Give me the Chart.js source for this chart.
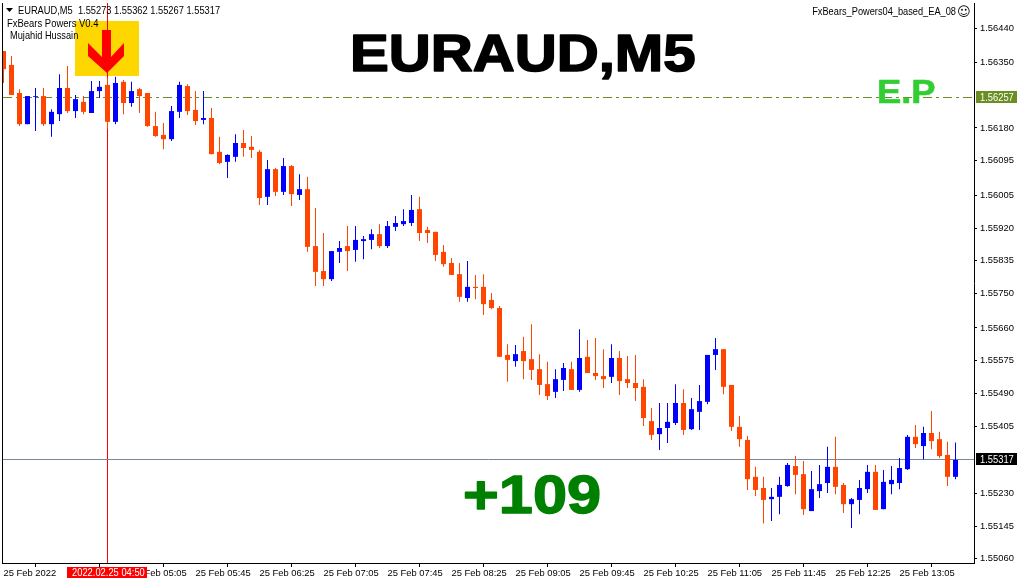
<!DOCTYPE html>
<html><head><meta charset="utf-8">
<style>html,body{margin:0;padding:0;background:#fff}canvas{display:block}</style>
<script src="https://cdn.jsdelivr.net/npm/chart.js@4/dist/chart.umd.js"></script>
</head><body><canvas id="c" width="1020" height="584"></canvas>
<script>
const opens=[1.56380,1.56344,1.56271,1.56190,1.56261,1.56263,1.56190,1.56216,1.56284,1.56224,
1.56248,1.56219,1.56276,1.56292,1.56196,1.56300,1.56245,1.56281,1.56271,1.56185,
1.56162,1.56151,1.56222,1.56289,1.56227,1.56201,1.56206,1.56118,1.56092,1.56105,
1.56141,1.56131,1.56118,1.56001,1.56073,1.56014,1.56081,1.56006,1.56021,1.55873,
1.55808,1.55787,1.55858,1.55873,1.55863,1.55886,1.55889,1.55904,1.55873,1.55923,
1.55930,1.55933,1.55969,1.55915,1.55910,1.55858,1.55829,1.55800,1.55738,1.55767,
1.55767,1.55733,1.55712,1.55590,1.55574,1.55600,1.55579,1.55553,1.55514,1.55494,
1.55525,1.55553,1.55499,1.55585,1.55543,1.55535,1.55533,1.55582,1.55527,1.55517,
1.55507,1.55418,1.55384,1.55400,1.55413,1.55465,1.55397,1.55442,1.55468,1.55590,
1.55605,1.55512,1.55403,1.55369,1.55273,1.55244,1.55215,1.55221,1.55249,1.55301,
1.55280,1.55184,1.55236,1.55257,1.55299,1.55252,1.55202,1.55213,1.55241,1.55286,
1.55189,1.55254,1.55257,1.55293,1.55377,1.55353,1.55387,1.55371,1.55330,1.55273];
const closes=[1.56333,1.56266,1.56190,1.56263,1.56263,1.56190,1.56222,1.56284,1.56224,1.56255,
1.56222,1.56276,1.56287,1.56196,1.56297,1.56245,1.56276,1.56263,1.56185,1.56159,
1.56151,1.56224,1.56292,1.56224,1.56198,1.56206,1.56112,1.56089,1.56110,1.56141,
1.56128,1.56123,1.55998,1.56073,1.56014,1.56081,1.56008,1.56021,1.55871,1.55806,
1.55787,1.55860,1.55868,1.55860,1.55889,1.55891,1.55904,1.55873,1.55925,1.55933,
1.55938,1.55967,1.55907,1.55907,1.55850,1.55826,1.55798,1.55741,1.55767,1.55764,
1.55722,1.55712,1.55585,1.55577,1.55592,1.55574,1.55551,1.55512,1.55483,1.55527,
1.55556,1.55499,1.55582,1.55543,1.55535,1.55527,1.55582,1.55522,1.55517,1.55504,
1.55426,1.55382,1.55400,1.55416,1.55465,1.55395,1.55449,1.55470,1.55590,1.55605,
1.55507,1.55403,1.55371,1.55267,1.55239,1.55213,1.55221,1.55252,1.55304,1.55278,
1.55189,1.55241,1.55254,1.55299,1.55247,1.55202,1.55215,1.55244,1.55286,1.55187,
1.55260,1.55265,1.55296,1.55377,1.55358,1.55387,1.55366,1.55327,1.55273,1.55317];
const highs=[1.56380,1.56367,1.56281,1.56263,1.56284,1.56284,1.56229,1.56320,1.56341,1.56266,
1.56263,1.56302,1.56302,1.56310,1.56313,1.56305,1.56300,1.56284,1.56271,1.56222,
1.56193,1.56237,1.56300,1.56294,1.56276,1.56276,1.56232,1.56157,1.56112,1.56164,
1.56175,1.56159,1.56123,1.56097,1.56076,1.56102,1.56084,1.56060,1.56053,1.55972,
1.55907,1.55860,1.55886,1.55925,1.55925,1.55899,1.55917,1.55930,1.55938,1.55951,
1.55969,1.56006,1.56001,1.55923,1.55910,1.55876,1.55842,1.55829,1.55834,1.55798,
1.55800,1.55751,1.55717,1.55618,1.55616,1.55637,1.55670,1.55592,1.55572,1.55553,
1.55569,1.55572,1.55657,1.55629,1.55634,1.55605,1.55618,1.55600,1.55587,1.55590,
1.55527,1.55452,1.55465,1.55465,1.55514,1.55501,1.55478,1.55512,1.55590,1.55634,
1.55605,1.55512,1.55431,1.55379,1.55299,1.55273,1.55244,1.55273,1.55309,1.55327,
1.55314,1.55288,1.55304,1.55351,1.55377,1.55257,1.55218,1.55265,1.55304,1.55304,
1.55291,1.55301,1.55322,1.55382,1.55408,1.55403,1.55444,1.55390,1.55364,1.55362];
const lows=[1.56297,1.56266,1.56185,1.56190,1.56172,1.56185,1.56157,1.56198,1.56219,1.56206,
1.56216,1.56219,1.56258,1.56177,1.56190,1.56216,1.56235,1.56219,1.56183,1.56157,
1.56125,1.56146,1.56206,1.56214,1.56188,1.56190,1.56112,1.56086,1.56050,1.56092,
1.56105,1.56102,1.55980,1.55980,1.56003,1.56006,1.55977,1.55993,1.55858,1.55769,
1.55769,1.55782,1.55829,1.55808,1.55832,1.55839,1.55865,1.55868,1.55868,1.55912,
1.55925,1.55925,1.55886,1.55881,1.55834,1.55819,1.55798,1.55728,1.55728,1.55735,
1.55694,1.55709,1.55585,1.55520,1.55559,1.55527,1.55525,1.55486,1.55473,1.55478,
1.55496,1.55499,1.55494,1.55543,1.55525,1.55504,1.55517,1.55486,1.55504,1.55470,
1.55405,1.55369,1.55343,1.55361,1.55408,1.55382,1.55395,1.55395,1.55462,1.55551,
1.55488,1.55392,1.55351,1.55239,1.55223,1.55152,1.55158,1.55176,1.55247,1.55228,
1.55174,1.55184,1.55218,1.55231,1.55228,1.55179,1.55140,1.55176,1.55231,1.55187,
1.55189,1.55228,1.55241,1.55291,1.55348,1.55319,1.55345,1.55322,1.55249,1.55267];

const priceTicks=[1.56440,1.56350,1.56180,1.56095,1.56005,1.55920,1.55835,1.55750,1.55660,1.55575,1.55490,1.55405,1.55230,1.55145,1.55060];
const timeTickBars=[0,8,16,24,32,40,48,56,64,72,80,88,96,104,112];
const timeTickLabels=['25 Feb 2022','','25 Feb 05:05','25 Feb 05:45','25 Feb 06:25','25 Feb 07:05','25 Feb 07:45','25 Feb 08:25','25 Feb 09:05','25 Feb 09:45','25 Feb 10:25','25 Feb 11:05','25 Feb 11:45','25 Feb 12:25','25 Feb 13:05'];
const entryPrice=1.56259, entryLabel='1.56257';
const lastPrice=1.55317, lastLabel='1.55317';
const crossBar=13, crossLabel='2022.02.25 04:50';

const UP='#0000FF', DOWN='#FF4500', BLACK='#000';
const FONT='"Liberation Sans"';
const bars=opens.map((_,i)=>i);
const dirColors=bars.map(i=>closes[i]>=opens[i]?UP:DOWN);

function text(ctx,s,x,y,font,color,opts={}){
  ctx.save();ctx.font=font;ctx.fillStyle=color;ctx.textBaseline=opts.base||'alphabetic';ctx.textAlign=opts.align||'left';
  ctx.translate(x,y);if(opts.sx)ctx.scale(opts.sx,1);
  if(opts.stroke){ctx.lineWidth=opts.stroke;ctx.strokeStyle=color;ctx.lineJoin='round';ctx.strokeText(s,0,0);}
  ctx.fillText(s,0,0);ctx.restore();
}
const decor={
  id:'decor',
  beforeDatasetsDraw(chart){
    const {ctx,chartArea:a,scales:{x,y}}=chart;
    const cx=Math.floor(x.getPixelForValue(crossBar));
    ctx.save();
    ctx.fillStyle='#FFD700';ctx.fillRect(cx-32,21,64,55);
    ctx.fillStyle='#FF0000';ctx.beginPath();
    [[-5,30],[4,30],[4,57],[17,43],[17,56],[0,73],[-19,56],[-19,43],[-5,57]].forEach((p,i)=>i?ctx.lineTo(cx+p[0],p[1]):ctx.moveTo(cx+p[0],p[1]));
    ctx.closePath();ctx.fill();
    ctx.fillStyle='#FF0000';ctx.fillRect(cx,a.top,1,a.bottom-a.top);
    const ey=Math.floor(y.getPixelForValue(entryPrice))+.5;
    ctx.strokeStyle='#6B8E23';ctx.lineWidth=1;ctx.setLineDash([9,4,3,4]);
    ctx.beginPath();ctx.moveTo(a.left,ey);ctx.lineTo(a.right,ey);ctx.stroke();
    ctx.setLineDash([]);
    const ly=Math.floor(y.getPixelForValue(lastPrice))+.5;
    ctx.strokeStyle='#778899';ctx.beginPath();ctx.moveTo(a.left,ly);ctx.lineTo(a.right,ly);ctx.stroke();
    ctx.restore();
  },
  afterDraw(chart){
    const {ctx,chartArea:a,scales:{x,y}}=chart;
    ctx.save();
    ctx.fillStyle=BLACK;ctx.fillRect(2,a.top,1,a.bottom-a.top+1);
    ctx.beginPath();ctx.moveTo(6,8);ctx.lineTo(13,8);ctx.lineTo(9.5,12);ctx.closePath();ctx.fill();
    ctx.restore();
    const small='11px '+FONT;
    text(ctx,'EURAUD,M5  1.55273 1.55362 1.55267 1.55317',18,14,small,BLACK,{sx:.845});
    text(ctx,'FxBears Powers V0.4',7,27,small,BLACK,{sx:.86});
    text(ctx,'Mujahid Hussain',10,39,small,BLACK,{sx:.84});
    text(ctx,'FxBears_Powers04_based_EA_08',956,15,small,BLACK,{align:'right',sx:.84});
    text(ctx,'\u263A',957,16,'13px "DejaVu Sans"',BLACK);
    text(ctx,'EURAUD,M5',350,71,'bold 51px '+FONT,BLACK,{sx:1.14,stroke:1.6});
    text(ctx,'+109',463,513,'bold 54px '+FONT,'#008000',{sx:1.135,stroke:1.4});
    text(ctx,'E.P',877,103,'bold 34px '+FONT,'#32CD32',{sx:1.07,stroke:.6});
    const ey=Math.floor(y.getPixelForValue(entryPrice))+.5, ly=Math.floor(y.getPixelForValue(lastPrice))+.5;
    ctx.fillStyle='#6B8E23';ctx.fillRect(976,Math.floor(ey)-6,41,12);
    text(ctx,entryLabel,980,ey,small,'#fff',{base:'middle',sx:.85});
    ctx.fillStyle=BLACK;ctx.fillRect(976,Math.floor(ly)-6,41,12);
    text(ctx,lastLabel,980,ly,small,'#fff',{base:'middle',sx:.85});
    const cx=Math.floor(x.getPixelForValue(crossBar));
    ctx.fillStyle='#FF0000';ctx.fillRect(cx-40,567,80,11);
    text(ctx,crossLabel,cx-35,572.5,small,'#fff',{base:'middle',sx:.85});
  }
};
new Chart(document.getElementById('c'),{
  type:'bar',
  data:{datasets:[
    {data:bars.map(i=>({x:i,y:[opens[i],closes[i]]})),backgroundColor:dirColors,barThickness:5,grouped:false,borderWidth:0,inflateAmount:0},
    {data:bars.map(i=>({x:i,y:[lows[i],highs[i]]})),backgroundColor:dirColors,barThickness:1,grouped:false,borderWidth:0,inflateAmount:0}
  ]},
  plugins:[decor],
  options:{
    responsive:false,animation:false,devicePixelRatio:1,
    layout:{padding:{left:3,top:3,right:0,bottom:0}},
    plugins:{legend:{display:false},tooltip:{enabled:false},title:{display:false}},
    scales:{
      x:{type:'linear',min:-0.0625,max:121.3125,offset:false,
        border:{color:BLACK,width:1},
        grid:{drawOnChartArea:false,drawTicks:true,tickLength:4,color:BLACK},
        afterBuildTicks(s){s.ticks=timeTickBars.map(v=>({value:v}));},
        afterFit(s){s.height=21;s.paddingLeft=0;s.paddingRight=0;},
        ticks:{autoSkip:false,maxRotation:0,minRotation:0,align:'start',padding:1,color:BLACK,font:{family:FONT,size:9.4},
          callback:(v)=>timeTickLabels[timeTickBars.indexOf(v)]}
      },
      y:{type:'linear',position:'right',min:1.55049,max:1.56505,
        border:{color:BLACK,width:1},
        grid:{drawOnChartArea:false,drawTicks:true,tickLength:3,color:BLACK},
        afterBuildTicks(s){s.ticks=priceTicks.map(v=>({value:v}));},
        afterFit(s){s.width=46;s.paddingTop=0;s.paddingBottom=0;},
        ticks:{autoSkip:false,padding:3,color:BLACK,font:{family:FONT,size:9.4},callback:v=>v.toFixed(5)}
      }
    }
  }
});
</script></body></html>
